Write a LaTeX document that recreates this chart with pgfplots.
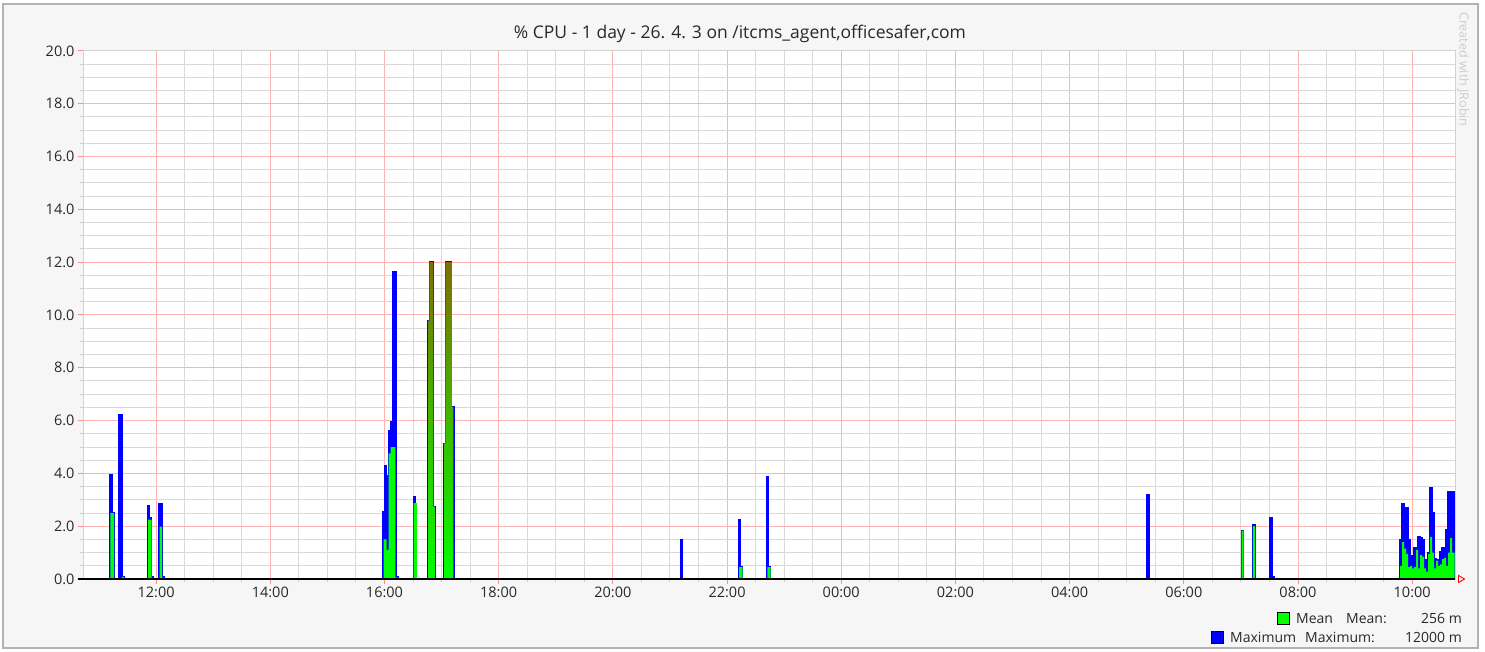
\documentclass[border=0pt]{standalone}
\usepackage{fontspec}
\setmainfont{Open Sans}
\usepackage{pgfplots}
\pgfplotsset{compat=1.18}
\usepackage{pgfplotstable}

\pgfplotstableread{
t y
10.72 0
11.193 3.96
11.228 2.5
11.263 0
11.351 6.22
11.403 0.1
11.438 0
11.850 2.77
11.885 2.34
11.920 0.1
11.945 0
12.051 2.87
12.104 0.1
12.139 0
15.967 2.55
16.002 4.3
16.037 3.9
16.072 5.6
16.107 5.96
16.151 11.64
16.204 0.1
16.239 0
16.507 3.12
16.536 2.87
16.566 0
16.759 9.8
16.787 12.0
16.857 2.74
16.899 0
17.032 5.14
17.067 12.0
17.179 6.53
17.219 0
21.197 1.48
21.220 0
22.200 2.23
22.239 0.47
22.274 0
22.698 3.88
22.729 0.47
22.764 0
29.355 3.21
29.395 0
31.007 1.83
31.047 0
31.200 2.07
31.247 0
31.503 2.32
31.550 0.1
31.585 0
33.787 1.5
33.822 2.87
33.857 1.85
33.892 2.7
33.927 1.5
33.962 0.6
33.997 0.9
34.032 1.2
34.067 0.6
34.102 1.6
34.137 1.55
34.172 1.5
34.207 0.75
34.242 0.7
34.277 1.0
34.312 3.45
34.347 2.5
34.382 0.78
34.417 0.55
34.453 0.75
34.488 1.05
34.523 1.2
34.558 1.05
34.593 1.85
34.628 3.3
34.663 3.3
34.698 3.3
34.745 0
}\maxdata

\pgfplotstableread{
t y
10.72 0
11.200 2.5
11.263 0
11.403 0.08
11.438 0
11.862 2.25
11.920 0.05
11.945 0
12.060 1.98
12.104 0.05
12.139 0
15.985 1.5
16.037 1.1
16.072 4.76
16.107 5.0
16.190 0.05
16.239 0
16.510 2.87
16.566 0
22.212 0.45
22.274 0
22.705 0.45
22.764 0
31.014 1.83
31.047 0
31.208 2.0
31.247 0
33.790 0.5
33.822 1.4
33.857 1.15
33.892 0.95
33.927 0.45
33.962 0.5
33.997 0.4
34.032 0.45
34.067 1.1
34.102 0.4
34.137 0.9
34.172 0.85
34.207 0.4
34.242 0.28
34.277 0.95
34.312 1.6
34.347 1.0
34.382 0.4
34.417 0.7
34.453 0.5
34.488 0.55
34.523 0.75
34.558 0.8
34.593 0.5
34.628 1.0
34.663 1.55
34.698 1.0
34.745 0
}\meandata

\pgfplotstableread{
t y
16.772 9.8
16.787 12.0
16.857 2.74
16.885 0
17.045 5.14
17.067 12.0
17.179 6.53
17.205 0
}\meanhigh

\definecolor{olivetop}{RGB}{128,112,0}
\definecolor{olivemid}{RGB}{60,190,0}
\definecolor{bggray}{RGB}{246,246,246}
\definecolor{txtgray}{RGB}{40,40,40}

\begin{document}
\begin{tikzpicture}[x=1pt,y=1pt]
\useasboundingbox (0,0) rectangle (1485,651);
\fill[white] (0,0) rectangle (1485,651);
\filldraw[fill=bggray, draw=gray!60, line width=1.5] (3,3) rectangle (1478,647);

\begin{axis}[
  at={(83pt,72pt)}, anchor=south west,
  scale only axis, width=1372pt, height=528pt,
  xmin=10.72, xmax=34.75, ymin=0, ymax=20,
  clip=false,
  axis background/.style={fill=white},
  axis line style={gray!35, line width=1pt},
  xtick={12,14,...,34},
  xticklabels={12:00,14:00,16:00,18:00,20:00,22:00,00:00,02:00,04:00,06:00,08:00,10:00},
  ytick={0,2,...,20},
  yticklabel={\pgfmathprintnumber[fixed,fixed zerofill,precision=1]{\tick}},
  /pgf/number format/assume math mode=true,
  minor x tick num=3, minor y tick num=3,
  grid=both,
  major grid style={red!30, line width=1pt},
  minor grid style={gray!30, line width=1pt},
  tick align=outside, tick pos=left,
  major tick length=5pt, minor tick length=3pt,
  major tick style={red!45, line width=1pt},
  minor tick style={gray!40, line width=1pt},
  tick label style={font=\fontsize{14.5}{17}\selectfont, text=txtgray},
  yticklabel style={anchor=east, xshift=0pt},
  xticklabel style={anchor=north, yshift=1pt},
]
\addplot[const plot, fill=blue, draw=blue, line width=1.4pt, line join=miter] table[x=t,y=y]{\maxdata} \closedcycle;
\addplot[const plot, fill=green, draw=none] table[x=t,y=y]{\meandata} \closedcycle;
\addplot[const plot, draw=none, top color=olivetop, middle color=olivemid, bottom color=green] table[x=t,y=y]{\meanhigh} \closedcycle;
\draw[black, line width=1.6pt] (axis cs:10.632,0) -- (axis cs:34.75,0);
\draw[red, line width=0.9pt, line join=miter] (axis cs:34.75,0) ++(3.5pt,3.5pt) -- ++(6pt,-3.5pt) -- ++(-6pt,-3.5pt) -- cycle;
\end{axis}

\node[font=\fontsize{17.5}{20}\selectfont, text=txtgray] at (740,617) {\% CPU - 1 day - 26. 4. 3 on /itcms\_agent,officesafer,com};
\node[rotate=-90, anchor=south west, inner sep=0pt, font=\fontsize{12.5}{14}\selectfont, text=gray!40] at (1457,639) {Created with JRobin};

\begin{scope}[font=\fontsize{14}{16}\selectfont, text=txtgray]
\filldraw[fill=green, draw=black, line width=0.9pt] (1277,27) rectangle (1289,39);
\node[anchor=base west, inner sep=0pt] at (1296,28) {Mean};
\node[anchor=base west, inner sep=0pt] at (1346,28) {Mean:};
\node[anchor=base east, inner sep=0pt] at (1462,28) {256 m};
\filldraw[fill=blue, draw=black, line width=0.9pt] (1211,8) rectangle (1223,20);
\node[anchor=base west, inner sep=0pt] at (1230,9) {Maximum};
\node[anchor=base west, inner sep=0pt] at (1305,9) {Maximum:};
\node[anchor=base east, inner sep=0pt] at (1462,9) {12000 m};
\end{scope}
\end{tikzpicture}
\end{document}
